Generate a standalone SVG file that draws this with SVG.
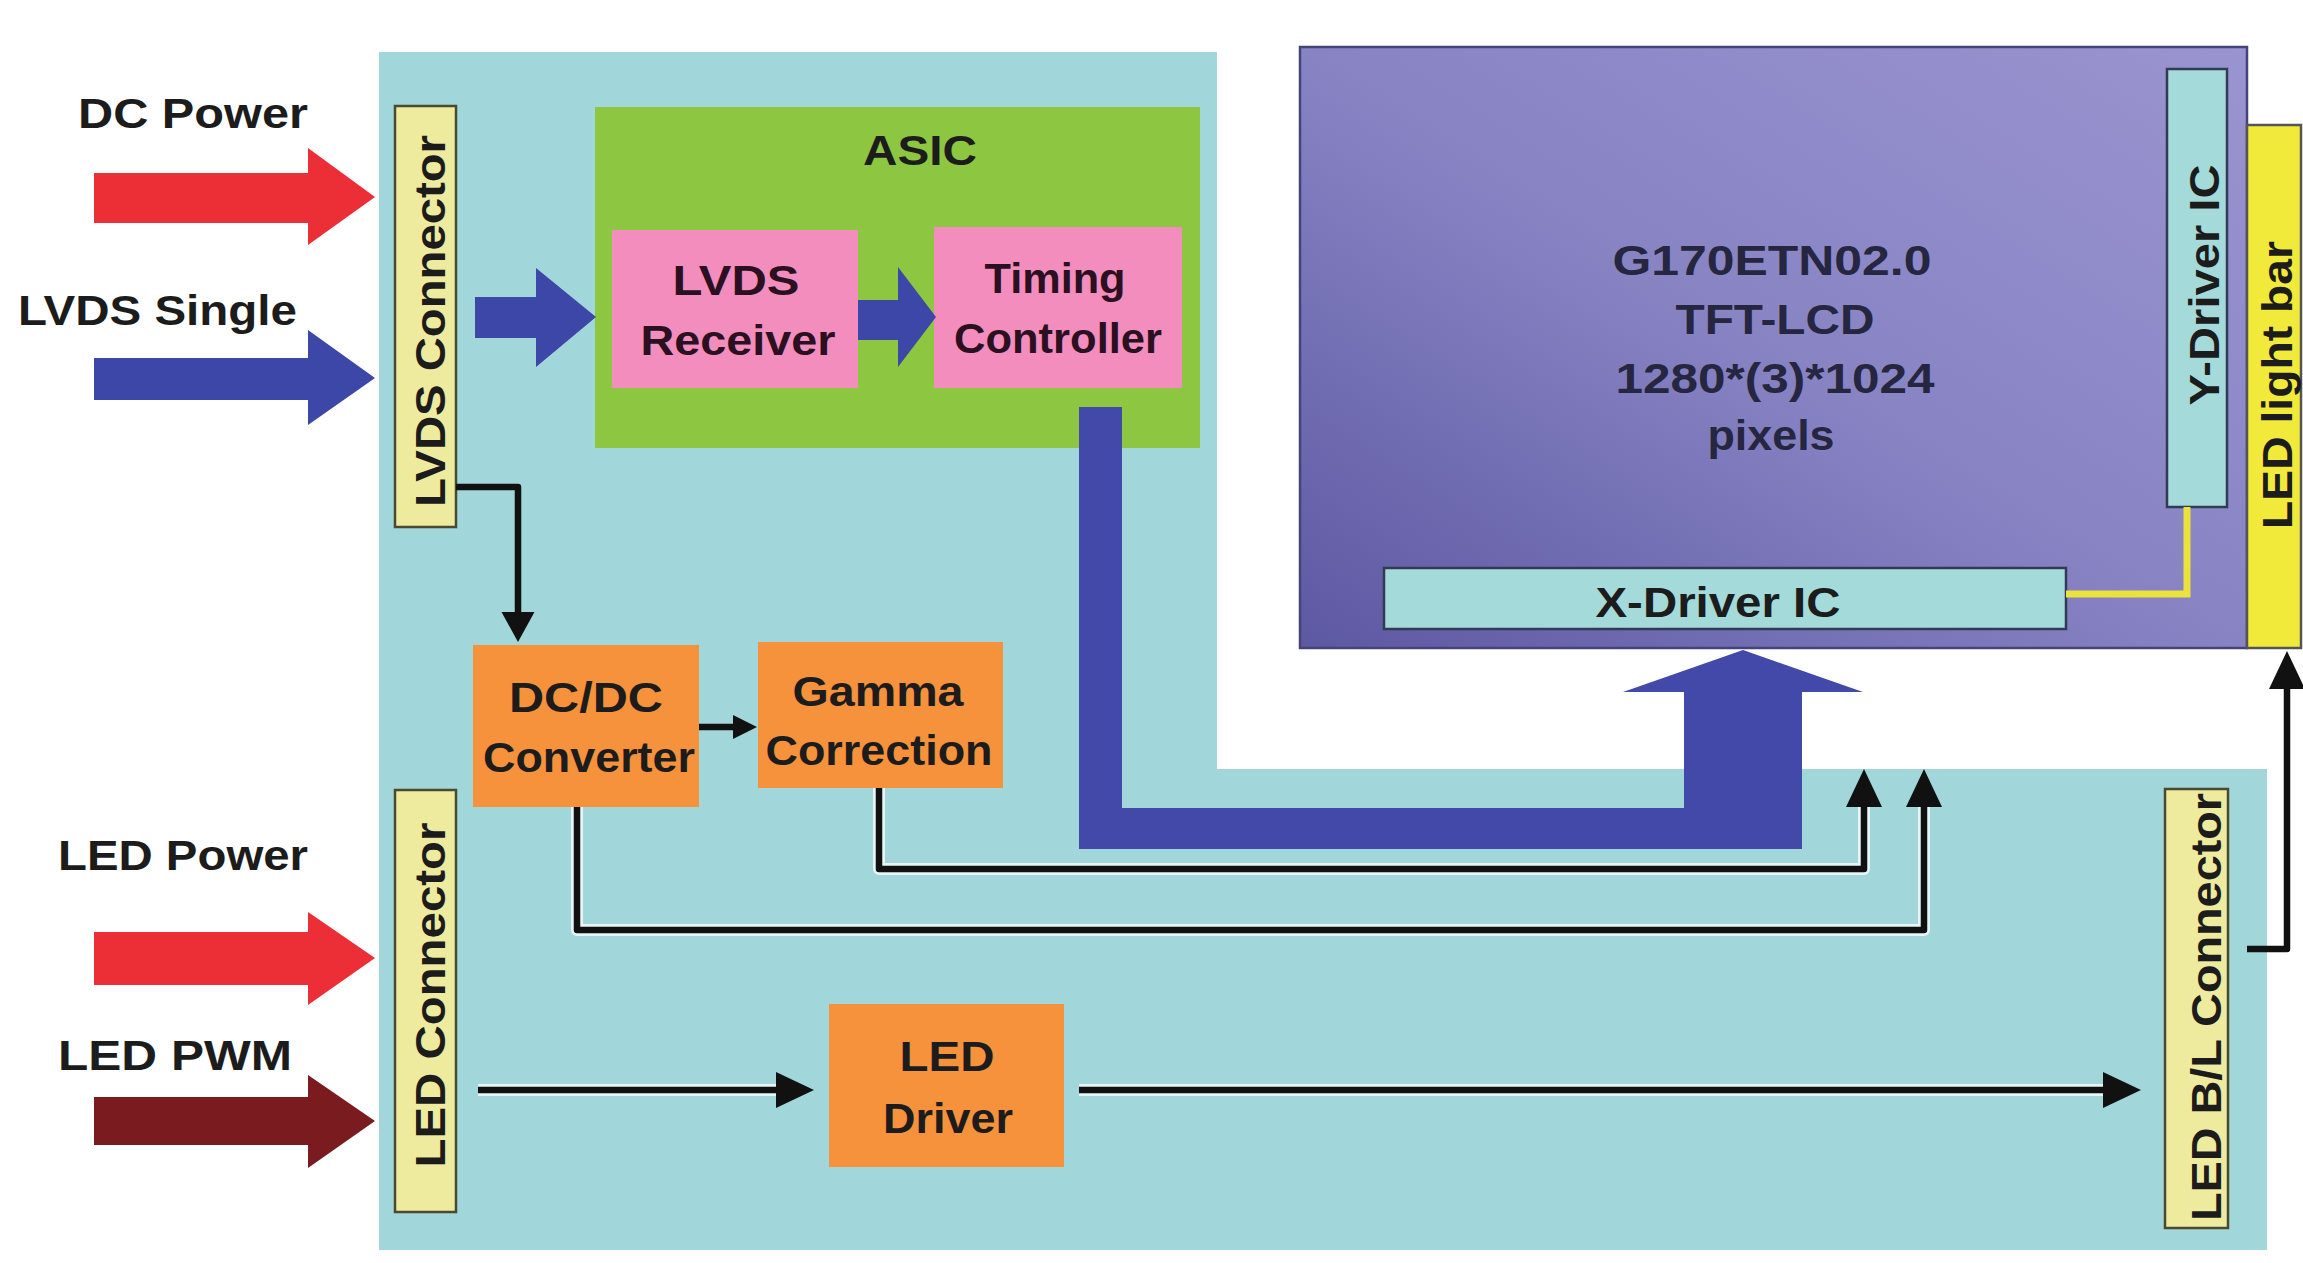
<svg xmlns="http://www.w3.org/2000/svg" width="2303" height="1263" viewBox="0 0 2303 1263">
<defs>
<linearGradient id="lcdGrad" x1="0" y1="1" x2="1" y2="0">
<stop offset="0" stop-color="#5d58a2"/>
<stop offset="0.5" stop-color="#8884c4"/>
<stop offset="1" stop-color="#9a94d0"/>
</linearGradient>
<marker id="arrL" markerUnits="userSpaceOnUse" markerWidth="38" markerHeight="38" refX="0" refY="18" orient="auto">
<path d="M0,0 L38,18 L0,36 z" fill="#111"/>
</marker>
<marker id="arrM" markerUnits="userSpaceOnUse" markerWidth="32" markerHeight="34" refX="0" refY="16.5" orient="auto">
<path d="M0,0 L30,16.5 L0,33 z" fill="#111"/>
</marker>
<marker id="arrS" markerUnits="userSpaceOnUse" markerWidth="26" markerHeight="26" refX="0" refY="12" orient="auto">
<path d="M0,0 L24,12 L0,24 z" fill="#111"/>
</marker>
</defs>
<style>
text{font-family:"Liberation Sans",Arial,sans-serif;font-weight:bold;fill:#1c1c1c}
.lbl{font-size:42px}
.in{font-size:42px;text-anchor:middle}
.pk{fill:#2a1020}
.lcd{fill:#262640}
.rot{font-size:42px;text-anchor:middle}
.conn{fill:#eeea9e;stroke:#4a4a30;stroke-width:2.5}
.orange{fill:#f6913c}
.pink{fill:#f28dbd}
.wire{fill:none;stroke:#111;stroke-width:6.5;stroke-linejoin:round}
.halo{fill:none;stroke:#ffffff;stroke-opacity:0.75;stroke-width:12;stroke-linejoin:round}
.drv{fill:#a4dada;stroke:#333a55;stroke-width:2.5}
</style>
<rect width="2303" height="1263" fill="#ffffff"/>
<g id="board">
<polygon points="379,52 1217,52 1217,769 2267,769 2267,1250 379,1250" fill="#a1d7db"/>
</g>
<g id="inputs">
<polygon points="94,173 308,173 308,148 375,197 308,245 308,223 94,223" fill="#ec2f37"/>
<polygon points="94,358 308,358 308,330 375,378 308,425 308,400 94,400" fill="#3d47a7"/>
<polygon points="94,932 308,932 308,912 375,958 308,1005 308,985 94,985" fill="#ec2f37"/>
<polygon points="94,1097 308,1097 308,1075 375,1121 308,1168 308,1145 94,1145" fill="#7a1b20"/>
<text class="lbl" x="78" y="128" textLength="230" lengthAdjust="spacingAndGlyphs">DC Power</text>
<text class="lbl" x="18" y="325" textLength="279" lengthAdjust="spacingAndGlyphs">LVDS Single</text>
<text class="lbl" x="58" y="870" textLength="250" lengthAdjust="spacingAndGlyphs">LED Power</text>
<text class="lbl" x="58" y="1070" textLength="234" lengthAdjust="spacingAndGlyphs">LED PWM</text>
</g>
<g id="lvds-connector">
<rect class="conn" x="395" y="106" width="61" height="421"/>
<text class="rot" transform="translate(445,321) rotate(-90)" textLength="372" lengthAdjust="spacingAndGlyphs">LVDS Connector</text>
</g>
<g id="led-connector">
<rect class="conn" x="395" y="790" width="61" height="422"/>
<text class="rot" transform="translate(445,995) rotate(-90)" textLength="345" lengthAdjust="spacingAndGlyphs">LED Connector</text>
</g>
<g id="asic">
<rect x="595" y="107" width="605" height="341" fill="#8dc640"/>
<text class="in" x="920" y="165" textLength="114" lengthAdjust="spacingAndGlyphs">ASIC</text>
</g>
<g id="lvds-receiver">
<rect class="pink" x="612" y="230" width="246" height="158"/>
<text class="in pk" x="736" y="295" textLength="127" lengthAdjust="spacingAndGlyphs">LVDS</text>
<text class="in pk" x="738" y="355" textLength="195" lengthAdjust="spacingAndGlyphs">Receiver</text>
</g>
<g id="timing-controller">
<rect class="pink" x="934" y="227" width="248" height="161"/>
<text class="in pk" x="1055" y="293" textLength="141" lengthAdjust="spacingAndGlyphs">Timing</text>
<text class="in pk" x="1058" y="353" textLength="208" lengthAdjust="spacingAndGlyphs">Controller</text>
</g>
<g id="dcdc-converter">
<rect class="orange" x="473" y="645" width="226" height="162"/>
<text class="in" x="586" y="712" textLength="154" lengthAdjust="spacingAndGlyphs">DC/DC</text>
<text class="in" x="589" y="772" textLength="212" lengthAdjust="spacingAndGlyphs">Converter</text>
</g>
<g id="gamma-correction">
<rect class="orange" x="758" y="642" width="245" height="146"/>
<text class="in" x="878" y="706" textLength="171" lengthAdjust="spacingAndGlyphs">Gamma</text>
<text class="in" x="879" y="765" textLength="227" lengthAdjust="spacingAndGlyphs">Correction</text>
</g>
<g id="led-driver">
<rect class="orange" x="829" y="1004" width="235" height="163"/>
<text class="in" x="947" y="1071" textLength="95" lengthAdjust="spacingAndGlyphs">LED</text>
<text class="in" x="948" y="1133" textLength="130" lengthAdjust="spacingAndGlyphs">Driver</text>
</g>
<g id="led-bl-connector">
<rect class="conn" x="2165" y="789" width="63" height="439"/>
<text class="rot" transform="translate(2221,1007) rotate(-90)" textLength="428" lengthAdjust="spacingAndGlyphs">LED B/L Connector</text>
</g>
<g id="tft-lcd">
<rect x="1300" y="47" width="947" height="601" fill="url(#lcdGrad)" stroke="#45447a" stroke-width="2.5"/>
<text class="in lcd" x="1772" y="275" textLength="319" lengthAdjust="spacingAndGlyphs">G170ETN02.0</text>
<text class="in lcd" x="1775" y="334" textLength="199" lengthAdjust="spacingAndGlyphs">TFT-LCD</text>
<text class="in lcd" x="1775" y="393" textLength="319" lengthAdjust="spacingAndGlyphs">1280*(3)*1024</text>
<text class="in lcd" x="1771" y="450" textLength="127" lengthAdjust="spacingAndGlyphs">pixels</text>
</g>
<g id="y-driver-ic">
<rect class="drv" x="2167" y="69" width="60" height="438"/>
<text class="rot" transform="translate(2219,285) rotate(-90)" textLength="241" lengthAdjust="spacingAndGlyphs">Y-Driver IC</text>
</g>
<g id="x-driver-ic">
<rect class="drv" x="1384" y="568" width="682" height="61"/>
<text class="in" x="1718" y="617" textLength="245" lengthAdjust="spacingAndGlyphs">X-Driver IC</text>
</g>
<g id="led-light-bar">
<rect x="2247" y="125" width="54" height="523" fill="#f2ea3a" stroke="#555" stroke-width="2.5"/>
<text class="rot" transform="translate(2292,385) rotate(-90)" textLength="288" lengthAdjust="spacingAndGlyphs">LED light bar</text>
</g>
<g id="connectors">
<polygon points="475,297 536,297 536,268 596,317 536,367 536,338 475,338" fill="#3d47a7"/>
<polygon points="858,300 898,300 898,267 936,317 898,367 898,340 858,340" fill="#3d47a7"/>
<polygon points="1079,407 1122,407 1122,808 1684,808 1684,692 1623,692 1743,650 1863,692 1802,692 1802,849 1079,849" fill="#4249a8"/>
<path d="M2066,594 H2187 V507" fill="none" stroke="#ebe23c" stroke-width="7"/>
<path class="halo" d="M879,788 V869 H1864 V807"/>
<path class="halo" d="M577,807 V930 H1924 V807"/>
<path class="halo" d="M478,1090 H776"/>
<path class="halo" d="M1079,1090 H2103"/>
<path class="wire" d="M456,487 H518 V612" marker-end="url(#arrM)"/>
<path class="wire" d="M699,727 H733" marker-end="url(#arrS)"/>
<path class="wire" d="M879,788 V869 H1864 V807" marker-end="url(#arrL)"/>
<path class="wire" d="M577,807 V930 H1924 V807" marker-end="url(#arrL)"/>
<path class="wire" d="M478,1090 H776" marker-end="url(#arrL)"/>
<path class="wire" d="M1079,1090 H2103" marker-end="url(#arrL)"/>
<path class="wire" d="M2247,949 H2287 V689" marker-end="url(#arrL)"/>
</g>
</svg>
